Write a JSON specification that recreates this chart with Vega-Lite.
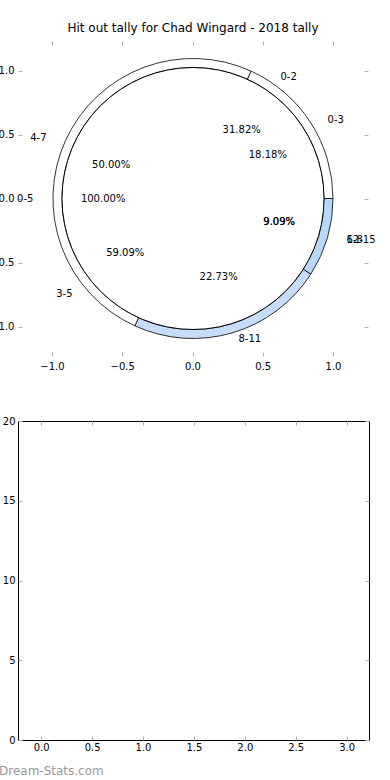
{
  "$schema": "https://vega.github.io/schema/vega-lite/v6.json",
  "padding": {"left": -11, "top": 21, "right": 0, "bottom": 0},
  "background": "white",
  "config": {
    "font": "DejaVu Sans",
    "axis": {"labelFont": "DejaVu Sans", "labelFontSize": 10, "labelColor": "black", "tickColor": "#b0b0b0", "tickSize": -4, "tickWidth": 1, "grid": false, "domain": false, "title": null},
    "text": {"font": "DejaVu Sans", "fontSize": 10, "color": "black"}
  },
  "datasets": {
    "ringA": [
      {"label": "12-15", "pct": 9.09, "ord": 1},
      {"label": "8-11", "pct": 22.73, "ord": 2},
      {"label": "4-7", "pct": 50.0, "ord": 3},
      {"label": "0-3", "pct": 18.18, "ord": 4}
    ],
    "ringC": [
      {"label": "0-5", "pct": 100.0, "ord": 1}
    ],
    "pctLabels": [
      {"text": "31.82%", "x": 0.35, "y": 0.539},
      {"text": "18.18%", "x": 0.536, "y": 0.344},
      {"text": "50.00%", "x": -0.579, "y": 0.266},
      {"text": "100.00%", "x": -0.636, "y": 0.0},
      {"text": "9.09%", "x": 0.617, "y": -0.18},
      {"text": "9.09%", "x": 0.617, "y": -0.18},
      {"text": "59.09%", "x": -0.479, "y": -0.422},
      {"text": "22.73%", "x": 0.186, "y": -0.609}
    ],
    "rightLabels": [
      {"text": "0-2", "x": 0.626, "y": 0.953},
      {"text": "0-3", "x": 0.961, "y": 0.617},
      {"text": "12-15", "x": 1.096, "y": -0.32},
      {"text": "6-8", "x": 1.096, "y": -0.32},
      {"text": "8-11", "x": 0.327, "y": -1.094}
    ],
    "leftLabels": [
      {"text": "4-7", "x": -1.039, "y": 0.477},
      {"text": "0-5", "x": -1.132, "y": 0.0},
      {"text": "3-5", "x": -0.854, "y": -0.742}
    ]
  },
  "bounds": "flush",
  "spacing": 65,
  "vconcat": [
    {
      "width": 350,
      "height": 315,
      "view": {"stroke": null},
      "title": {"text": "Hit out tally for Chad Wingard - 2018 tally", "font": "DejaVu Sans", "fontSize": 12, "fontWeight": "normal", "color": "black", "offset": 6},
      "resolve": {"axis": {"x": "independent", "y": "independent"}},
      "layer": [
        {
          "data": {"name": "ringA"},
          "mark": {"type": "arc", "radius": 140, "radius2": 131, "stroke": "black", "strokeWidth": 0.8},
          "encoding": {
            "theta": {"field": "pct", "type": "quantitative", "stack": true, "scale": {"domain": [0, 100], "range": [1.5708, 7.854]}},
            "order": {"field": "ord", "type": "quantitative"},
            "color": {"field": "label", "type": "nominal", "legend": null,
              "scale": {"domain": ["12-15", "8-11", "4-7", "0-3", "0-5"], "range": ["#b9d7fb", "#c7dcf8", "#ffffff", "#ffffff", "#ffffff"]}}
          }
        },
        {
          "data": {"name": "ringC"},
          "mark": {"type": "arc", "radius": 131, "stroke": "black", "strokeWidth": 1},
          "encoding": {
            "theta": {"field": "pct", "type": "quantitative", "stack": true, "scale": {"domain": [0, 100], "range": [1.5708, 7.854]}},
            "order": {"field": "ord", "type": "quantitative"},
            "color": {"field": "label", "type": "nominal", "legend": null}
          }
        },
        {
          "data": {"name": "pctLabels"},
          "mark": {"type": "text", "align": "center", "baseline": "middle"},
          "encoding": {
            "x": {"field": "x", "type": "quantitative", "axis": null, "scale": {"domain": [-1.242, 1.249], "nice": false, "zero": false}},
            "y": {"field": "y", "type": "quantitative", "axis": null, "scale": {"domain": [-1.227, 1.234], "nice": false, "zero": false}},
            "text": {"field": "text"}
          }
        },
        {
          "data": {"name": "rightLabels"},
          "mark": {"type": "text", "align": "left", "baseline": "middle"},
          "encoding": {
            "x": {"field": "x", "type": "quantitative", "axis": null},
            "y": {"field": "y", "type": "quantitative", "axis": null},
            "text": {"field": "text"}
          }
        },
        {
          "data": {"name": "leftLabels"},
          "mark": {"type": "text", "align": "right", "baseline": "middle"},
          "encoding": {
            "x": {"field": "x", "type": "quantitative", "axis": {"orient": "bottom", "values": [-1, -0.5, 0, 0.5, 1], "format": ".1f", "labelPadding": 9}},
            "y": {"field": "y", "type": "quantitative", "axis": {"orient": "left", "values": [-1, -0.5, 0, 0.5, 1], "format": ".1f", "labelPadding": 8}},
            "text": {"field": "text"}
          }
        },
        {
          "data": {"name": "leftLabels"},
          "mark": {"type": "point", "opacity": 0},
          "encoding": {
            "x": {"field": "x", "type": "quantitative", "axis": {"orient": "top", "values": [-1, -0.5, 0, 0.5, 1], "labels": false}},
            "y": {"field": "y", "type": "quantitative", "axis": {"orient": "right", "values": [-1, -0.5, 0, 0.5, 1], "labels": false}}
          }
        }
      ]
    },
    {
      "width": 351,
      "height": 319,
      "data": {"values": []},
      "view": {"stroke": "black", "strokeWidth": 1},
      "title": {"text": "Dream-Stats.com", "orient": "bottom", "anchor": "start", "frame": "group", "dx": -19, "offset": 14, "font": "DejaVu Sans", "fontSize": 12, "fontWeight": "normal", "color": "#999999"},
      "resolve": {"axis": {"x": "independent", "y": "independent"}},
      "layer": [
        {
          "mark": {"type": "point", "opacity": 0},
          "encoding": {
            "x": {"field": "x", "type": "quantitative", "scale": {"domain": [-0.228, 3.22], "nice": false, "zero": false}, "axis": {"orient": "bottom", "values": [0, 0.5, 1, 1.5, 2, 2.5, 3], "format": ".1f", "labelPadding": 6}},
            "y": {"field": "y", "type": "quantitative", "scale": {"domain": [0, 20], "nice": false}, "axis": {"orient": "left", "values": [0, 5, 10, 15, 20], "format": "d", "labelPadding": 7}}
          }
        },
        {
          "mark": {"type": "point", "opacity": 0},
          "encoding": {
            "x": {"field": "x", "type": "quantitative", "axis": {"orient": "top", "values": [0, 0.5, 1, 1.5, 2, 2.5, 3], "labels": false}},
            "y": {"field": "y", "type": "quantitative", "axis": {"orient": "right", "values": [0, 5, 10, 15, 20], "labels": false}}
          }
        }
      ]
    }
  ]
}
